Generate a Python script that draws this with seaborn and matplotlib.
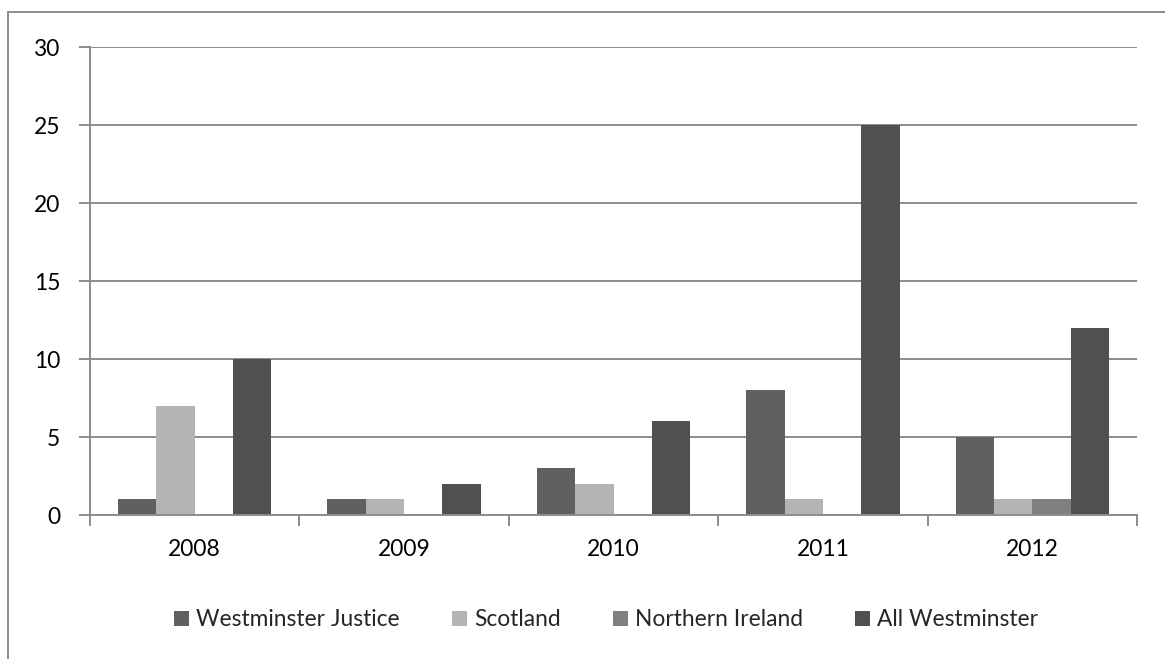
import matplotlib
matplotlib.use("Agg")
import matplotlib.pyplot as plt
import seaborn as sns
import pandas as pd
import numpy as np
from matplotlib.lines import Line2D
from matplotlib.patches import Patch

years = ["2008", "2009", "2010", "2011", "2012"]
series = ["Westminster Justice", "Scotland", "Northern Ireland", "All Westminster"]
westminster_justice = [1, 1, 3, 8, 5]
scotland = [7, 1, 2, 1, 1]
northern_ireland = [0, 0, 0, 0, 1]
all_westminster = [10, 2, 6, 25, 12]
colors = ["#606060", "#b3b3b3", "#808080", "#505050"]

values = [westminster_justice, scotland, northern_ireland, all_westminster]
rows = []
for s, vals in zip(series, values):
    for y, v in zip(years, vals):
        rows.append({"Year": y, "Series": s, "Value": v})
df = pd.DataFrame(rows)

sns.set_theme(style="white")
plt.rcParams['font.family'] = ['Lato', 'DejaVu Sans']

FS = 16.4
W, H = 1165, 659
fig = plt.figure(figsize=(W / 100, H / 100), dpi=100)
ax = fig.add_axes([90 / W, 1 - 515 / H, (1137 - 90) / W, (515 - 47) / H])

sns.barplot(data=df, x="Year", y="Value", hue="Series", order=years,
            hue_order=series, palette=colors, width=0.732, saturation=1,
            ax=ax, legend=False, linewidth=0)

grid_c = "#8c8c8c"
ax.set_ylim(0, 30)
ax.set_xlim(-0.5, 4.5)
ax.set_yticks(np.arange(0, 31, 5))
ax.yaxis.grid(True, color=grid_c, linewidth=1.4)
ax.set_axisbelow(True)
for s in ["top", "right"]:
    ax.spines[s].set_visible(False)
for s in ["left", "bottom"]:
    ax.spines[s].set_color(grid_c)
    ax.spines[s].set_linewidth(1.4)

ax.set_xticks(range(len(years)))
ax.set_xticklabels(years)
ax.set_xticks(np.arange(-0.5, 5.0, 1.0), minor=True)
ax.tick_params(axis="x", which="major", length=0, pad=17, labelsize=FS, colors="black")
ax.tick_params(axis="x", which="minor", length=8, width=1.4, color=grid_c, direction="out", bottom=True)
ax.tick_params(axis="y", which="major", length=8, width=1.4, color=grid_c, direction="out",
               left=True, pad=13.5, labelsize=FS, labelcolor="black")
ax.set_xlabel("")
ax.set_ylabel("")

# outer chart border (top and left visible)
fig.add_artist(Line2D([8 / W, 1.0], [1 - 12 / H, 1 - 12 / H], transform=fig.transFigure,
                      color=grid_c, linewidth=1.4))
fig.add_artist(Line2D([8 / W, 8 / W], [1 - 12 / H, 0], transform=fig.transFigure,
                      color=grid_c, linewidth=1.4))

handles = [Patch(facecolor=c, edgecolor="none") for c in colors]
fig.legend(handles, series, loc="center", bbox_to_anchor=(606 / W, 1 - 620 / H), ncol=4,
           frameon=False, fontsize=FS, handlelength=0.66, handleheight=0.66,
           handletextpad=0.3, columnspacing=2.3)

fig.savefig("out.png", dpi=100)
